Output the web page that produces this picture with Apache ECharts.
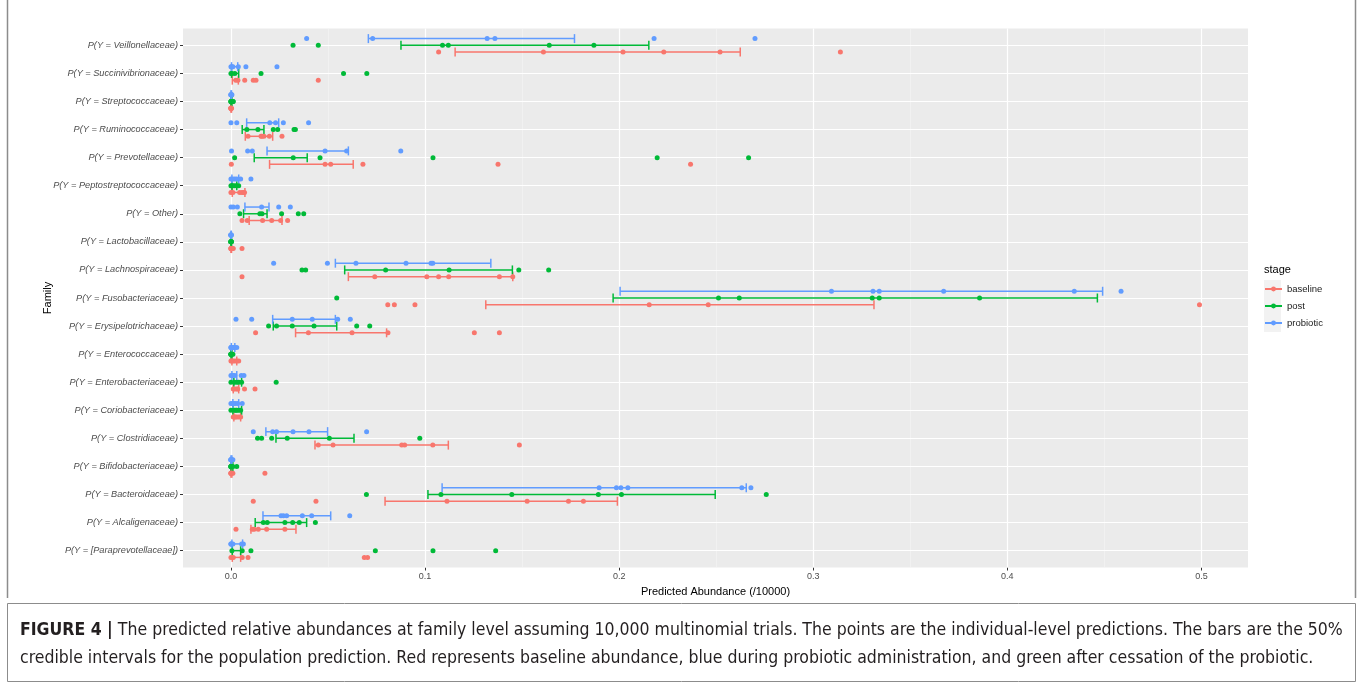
<!DOCTYPE html>
<html>
<head>
<meta charset="utf-8">
<script src="https://cdn.jsdelivr.net/npm/echarts@6/dist/echarts.min.js"></script>
<style>
html,body{margin:0;padding:0;background:#fff;}
#chart{width:1358px;height:683px;}
</style>
</head>
<body>
<div id="chart"></div>
<script>
// ---------------- data ----------------
const categories = [
  'P(Y = Veillonellaceae)', 'P(Y = Succinivibrionaceae)', 'P(Y = Streptococcaceae)',
  'P(Y = Ruminococcaceae)', 'P(Y = Prevotellaceae)', 'P(Y = Peptostreptococcaceae)',
  'P(Y = Other)', 'P(Y = Lactobacillaceae)', 'P(Y = Lachnospiraceae)',
  'P(Y = Fusobacteriaceae)', 'P(Y = Erysipelotrichaceae)', 'P(Y = Enterococcaceae)',
  'P(Y = Enterobacteriaceae)', 'P(Y = Coriobacteriaceae)', 'P(Y = Clostridiaceae)',
  'P(Y = Bifidobacteriaceae)', 'P(Y = Bacteroidaceae)', 'P(Y = Alcaligenaceae)',
  'P(Y = [Paraprevotellaceae])'
];
const stages = ['baseline', 'post', 'probiotic'];
const xTicks = [0, 0.1, 0.2, 0.3, 0.4, 0.5];
const xMinorTicks = [0.05, 0.15, 0.25, 0.35, 0.45];

const baselinePoints = [
  [0.107, 0.161, 0.202, 0.223, 0.252, 0.314],
  [0.0025, 0.0036, 0.0071, 0.0115, 0.0129, 0.045],
  [0, 0, 0, 0.0003, 0.0001, 0],
  [0.0088, 0.0155, 0.016, 0.017, 0.0198, 0.0263],
  [0.0002, 0.0485, 0.0514, 0.068, 0.1376, 0.2368],
  [0, 0.001, 0.0045, 0.0057, 0.0065, 0.007],
  [0.0057, 0.0084, 0.0163, 0.021, 0.0256, 0.0292],
  [0, 0, 0.0012, 0.0005, 0, 0.0057],
  [0.0057, 0.0741, 0.1009, 0.107, 0.1122, 0.1383, 0.1452],
  [0.0808, 0.0842, 0.0948, 0.2155, 0.2459, 0.499],
  [0.0127, 0.0399, 0.0624, 0.0809, 0.1254, 0.1383],
  [0, 0.001, 0.002, 0.003, 0.004, 0.0005],
  [0.0012, 0.003, 0.0035, 0.007, 0.0124, 0.002],
  [0.0012, 0.0022, 0.004, 0.005, 0.003, 0.0018],
  [0.045, 0.0526, 0.088, 0.0895, 0.104, 0.1486],
  [0, 0.001, 0.0175, 0, 0.0005, 0],
  [0.0115, 0.0438, 0.1113, 0.1526, 0.1739, 0.1816],
  [0.0026, 0.011, 0.012, 0.0141, 0.0184, 0.0278],
  [0, 0.0012, 0.0058, 0.0088, 0.0687, 0.0704]
];
const baselineCI = [
  [0.1155, 0.2624], [0.0007, 0.0038], [0, 0.0003], [0.0074, 0.0215], [0.0199, 0.063],
  [0.0007, 0.0072], [0.0094, 0.0263], [0, 0.0003], [0.0605, 0.1452], [0.1313, 0.3313],
  [0.0333, 0.0802], [0.0005, 0.003], [0.0012, 0.004], [0.0015, 0.005], [0.0433, 0.112],
  [0, 0.0005], [0.0794, 0.1991], [0.0103, 0.0335], [0.0007, 0.005]
];

const postPoints = [
  [0.032, 0.045, 0.109, 0.112, 0.164, 0.187],
  [0, 0.0005, 0.002, 0.0155, 0.058, 0.070],
  [0, 0, 0.001, 0.0005, 0.0012, 0],
  [0.0082, 0.0139, 0.0218, 0.0241, 0.0325, 0.0332],
  [0.0019, 0.0321, 0.0459, 0.1041, 0.2196, 0.2667],
  [0, 0.001, 0.002, 0.003, 0.004, 0.0005],
  [0.0046, 0.0149, 0.016, 0.0261, 0.0347, 0.0375],
  [0, 0, 0, 0.0003, 0, 0],
  [0.0366, 0.0385, 0.0797, 0.1124, 0.1483, 0.1637],
  [0.0545, 0.2512, 0.2619, 0.3304, 0.334, 0.3857],
  [0.0194, 0.0235, 0.0316, 0.0428, 0.0648, 0.0715],
  [0, 0.001, 0, 0.0005, 0, 0],
  [0, 0.0017, 0.004, 0.0055, 0.0233, 0.003],
  [0, 0.0017, 0.004, 0.005, 0.003, 0.0025],
  [0.0137, 0.0158, 0.021, 0.029, 0.0507, 0.0973],
  [0, 0, 0.003, 0.001, 0, 0],
  [0.0698, 0.1082, 0.1447, 0.1893, 0.2012, 0.2758],
  [0.0167, 0.0187, 0.0278, 0.0318, 0.0352, 0.0435],
  [0.0005, 0.0058, 0.0103, 0.0744, 0.1041, 0.1364]
];
const postCI = [
  [0.0876, 0.2153], [0.0003, 0.004], [0, 0.0005], [0.0058, 0.017], [0.012, 0.0393],
  [0.0005, 0.003], [0.0065, 0.0186], [0, 0.0003], [0.0586, 0.145], [0.1969, 0.4464],
  [0.0218, 0.0545], [0, 0.0005], [0.0015, 0.0055], [0.001, 0.0055], [0.0232, 0.0634],
  [0, 0.001], [0.1015, 0.2495], [0.0125, 0.039], [0.0007, 0.005]
];

const probioticPoints = [
  [0.039, 0.073, 0.132, 0.136, 0.218, 0.270],
  [0, 0.0005, 0.001, 0.0038, 0.0077, 0.0237],
  [0, 0, 0, 0.0003, 0.0005, 0.0002],
  [0, 0.003, 0.020, 0.023, 0.027, 0.040],
  [0.0003, 0.0086, 0.011, 0.0485, 0.0596, 0.0875],
  [0, 0.001, 0.002, 0.003, 0.005, 0.0103],
  [0, 0.0012, 0.0033, 0.0158, 0.0246, 0.0306],
  [0, 0, 0, 0.0002, 0, 0],
  [0.022, 0.0497, 0.0644, 0.0902, 0.1031, 0.104],
  [0.3094, 0.3308, 0.334, 0.3672, 0.4345, 0.4586],
  [0.0026, 0.0107, 0.0316, 0.0419, 0.055, 0.0615],
  [0, 0.001, 0.002, 0.003, 0.001, 0],
  [0, 0.0012, 0.002, 0.0053, 0.0067, 0.001],
  [0, 0.0012, 0.0022, 0.0034, 0.0058, 0.001],
  [0.0115, 0.0215, 0.0235, 0.032, 0.0402, 0.0699],
  [0, 0, 0.001, 0.0005, 0, 0],
  [0.1897, 0.1986, 0.2009, 0.2045, 0.2632, 0.2679],
  [0.0258, 0.027, 0.0287, 0.0368, 0.0416, 0.0612],
  [0, 0.0002, 0.0055, 0.0064, 0.001, 0]
];
const probioticCI = [
  [0.0708, 0.177], [0.0003, 0.0035], [0, 0.0003], [0.0081, 0.0246], [0.0186, 0.0605],
  [0.0005, 0.004], [0.0072, 0.0196], [0, 0.0002], [0.0538, 0.1339], [0.2005, 0.4491],
  [0.0215, 0.0538], [0.0002, 0.002], [0.0005, 0.003], [0.001, 0.004], [0.018, 0.0498],
  [0, 0.0005], [0.1088, 0.2655], [0.0165, 0.0514], [0.0005, 0.006]
];

// ---------------- styling / layout ----------------
const colors = { baseline: '#F8766D', post: '#00BA38', probiotic: '#619CFF' };
const dodge = { baseline: 0.24, post: 0, probiotic: -0.24 };   // in category units
const capHalf = 0.16;                                           // errorbar cap half-height, category units
const pointsBy = { baseline: baselinePoints, post: postPoints, probiotic: probioticPoints };
const ciBy = { baseline: baselineCI, post: postCI, probiotic: probioticCI };
const catIdx = categories.map((c, i) => i);

const chart = echarts.init(document.getElementById('chart'), null, { renderer: 'canvas' });

function pointData(stage) {
  const out = [];
  pointsBy[stage].forEach((vals, ci) => vals.forEach(v => out.push([v, ci + dodge[stage]])));
  return out;
}
function ciData(stage) {
  return ciBy[stage].map((r, ci) => [r[0], r[1], ci + dodge[stage]]);
}
function errRenderer(color) {
  return function (params, api) {
    const a = api.coord([api.value(0), api.value(2)]);
    const b = api.coord([api.value(1), api.value(2)]);
    const h = api.size([0, capHalf])[1];
    const st = { stroke: color, lineWidth: 1.5 };
    return {
      type: 'group',
      children: [
        { type: 'line', shape: { x1: a[0], y1: a[1], x2: b[0], y2: b[1] }, style: st },
        { type: 'line', shape: { x1: a[0], y1: a[1] - h, x2: a[0], y2: a[1] + h }, style: st },
        { type: 'line', shape: { x1: b[0], y1: b[1] - h, x2: b[0], y2: b[1] + h }, style: st }
      ]
    };
  };
}

const series = [];
// panel grid lines (ggplot-style), drawn through the axes' scales
series.push({
  type: 'line', name: '_minorGrid', data: [], z: 1, silent: true,
  markLine: { z: 1, silent: true, symbol: 'none', label: { show: false }, animation: false,
    lineStyle: { color: '#F5F5F5', width: 0.6, type: 'solid' },
    data: xMinorTicks.map(v => ({ xAxis: v })) }
});
series.push({
  type: 'line', name: '_majorGrid', data: [], z: 1, silent: true,
  markLine: { z: 1, silent: true, symbol: 'none', label: { show: false }, animation: false,
    lineStyle: { color: '#FFFFFF', width: 1.2, type: 'solid' },
    data: xTicks.map(v => ({ xAxis: v })).concat(catIdx.map(i => ({ yAxis: i }))) }
});
// legend-only line series (line + point key like ggplot)
stages.forEach(s => series.push({
  type: 'line', name: s, data: [], color: colors[s], symbol: 'circle', symbolSize: 5,
  lineStyle: { width: 1.5 }
}));
stages.forEach(s => series.push({
  type: 'custom', name: s, data: ciData(s), renderItem: errRenderer(colors[s]),
  encode: { x: [0, 1], y: 2 }, z: 6, silent: true
}));
stages.forEach(s => series.push({
  type: 'scatter', name: s, data: pointData(s), color: colors[s], symbolSize: 5,
  z: 7, itemStyle: { opacity: 1 }
}));

const xMin = -0.0247, xMax = 0.524;
const labelFont = 'Liberation Sans, Arial, sans-serif';
const capFont = "'Liberation Sans Narrow', 'DejaVu Sans Condensed', sans-serif";

chart.setOption({
  animation: false,
  backgroundColor: '#ffffff',
  grid: { left: 183, right: 110, top: 28.5, bottom: 115.5, show: true, backgroundColor: '#EBEBEB', borderWidth: 0, containLabel: false },
  xAxis: {
    type: 'value', min: xMin, max: xMax,
    name: 'Predicted Abundance (/10000)', nameLocation: 'middle', nameGap: 16,
    nameTextStyle: { fontSize: 11, color: '#000', fontFamily: labelFont },
    axisLine: { show: false, onZero: false },
    axisTick: { show: true, length: 3, lineStyle: { color: '#333333', width: 1 }, customValues: xTicks },
    axisLabel: { customValues: xTicks, margin: 5, fontSize: 9, color: '#4D4D4D', fontFamily: labelFont,
      formatter: v => v.toFixed(1) },
    splitLine: { show: false }
  },
  yAxis: {
    type: 'value', min: -0.6, max: 18.6, inverse: true,
    name: 'Family', nameLocation: 'middle', nameGap: 130, nameMoveOverlap: false,
    nameTextStyle: { fontSize: 11, color: '#000', fontFamily: labelFont },
    axisLine: { show: false, onZero: false },
    axisTick: { show: true, length: 3, lineStyle: { color: '#333333' }, customValues: catIdx },
    axisLabel: { customValues: catIdx, margin: 5, fontSize: 9.2, fontStyle: 'italic',
      color: '#4D4D4D', fontFamily: labelFont, formatter: v => categories[Math.round(v)] },
    splitLine: { show: false }
  },
  legend: {
    data: stages, orient: 'vertical', left: 1264, top: 284, padding: 0,
    itemWidth: 17, itemHeight: 6, itemGap: 7,
    textStyle: { fontSize: 9.5, color: '#1a1a1a', fontFamily: labelFont },
    selectedMode: false
  },
  graphic: [
    { type: 'rect', left: 1264, top: 280, shape: { width: 17, height: 52 }, style: { fill: '#F2F2F2' }, z: -1, silent: true },
    { type: 'text', left: 1264, top: 264, style: { text: 'stage', fontSize: 11, fill: '#000', fontFamily: labelFont } },
    // figure frame
    { type: 'line', shape: { x1: 7.5, y1: 0, x2: 7.5, y2: 598 }, style: { stroke: '#8c8c8c', lineWidth: 1.5 } },
    { type: 'line', shape: { x1: 1355.5, y1: 0, x2: 1355.5, y2: 598 }, style: { stroke: '#8c8c8c', lineWidth: 1.5 } },
    { type: 'rect', shape: { x: 7.5, y: 603.5, width: 1348, height: 78 }, style: { fill: 'none', stroke: '#8c8c8c', lineWidth: 1 } },
    // caption
    { type: 'text', left: 20, top: 621, style: {
        text: '{b|FIGURE 4 |} The predicted relative abundances at family level assuming 10,000 multinomial trials. The points are the individual-level predictions. The bars are the 50%',
        rich: { b: { fontWeight: 'bold', fontSize: 17.5, fill: '#231f20', fontFamily: capFont } },
        fontSize: 17.5, fill: '#231f20', fontFamily: capFont } },
    { type: 'text', left: 20, top: 649, style: {
        text: 'credible intervals for the population prediction. Red represents baseline abundance, blue during probiotic administration, and green after cessation of the probiotic.',
        fontSize: 17.5, fill: '#231f20', fontFamily: capFont } }
  ],
  series: series
});
</script>
</body>
</html>
